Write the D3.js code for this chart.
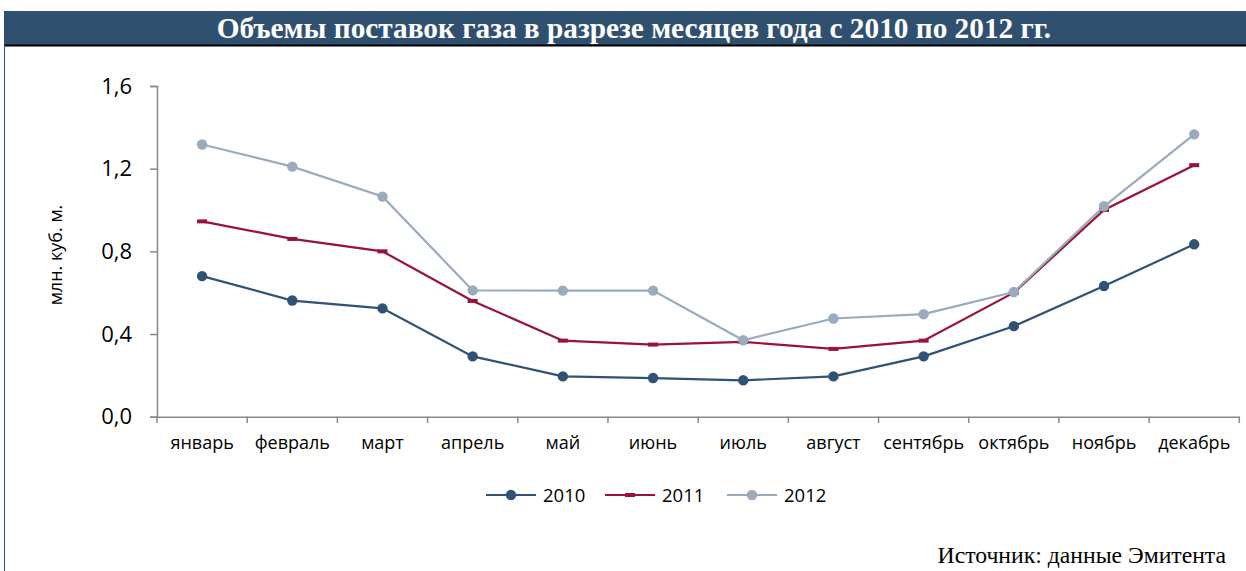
<!DOCTYPE html>
<html><head><meta charset="utf-8">
<script src="https://cdn.jsdelivr.net/npm/d3@7"></script>
<style>body{margin:0;background:#fff}svg{display:block}</style>
</head><body>
<svg id="c" width="1246" height="571"></svg>
<script>
const months = ["январь","февраль","март","апрель","май","июнь","июль","август","сентябрь","октябрь","ноябрь","декабрь"];
const s2010 = [0.68,0.562,0.524,0.292,0.195,0.187,0.176,0.195,0.292,0.438,0.632,0.834];
const s2011 = [0.945,0.86,0.80,0.56,0.368,0.349,0.362,0.328,0.368,0.60,1.0,1.217];
const s2012 = [1.317,1.21,1.065,0.611,0.61,0.61,0.37,0.475,0.496,0.603,1.018,1.366];
const yTicks = [0,0.4,0.8,1.2,1.6];
const seriesNames = ["2010","2011","2012"];
const title = "Объемы поставок газа в разрезе месяцев года с 2010 по 2012 гг.";
const yTitle = "млн. куб. м.";
const source = "Источник: данные Эмитента";

const svg = d3.select("#c");
const colors = ["#2f5275","#9b1239","#9aabbd"];
const markers = ["circle","dash","circle"];
const series = [s2010,s2011,s2012];

// title bar
svg.append("rect").attr("x",4).attr("y",11).attr("width",1242).attr("height",34).attr("fill","#30506f");
svg.append("line").attr("x1",4).attr("x2",1246).attr("y1",45.5).attr("y2",45.5).attr("stroke","#000").attr("stroke-width",2);
svg.append("line").attr("x1",4.5).attr("x2",4.5).attr("y1",45).attr("y2",571).attr("stroke","#30506f").attr("stroke-width",1);
svg.append("text").attr("x",634).attr("y",38).attr("text-anchor","middle")
  .attr("font-family","Liberation Serif").attr("font-weight","bold").attr("font-size",29.3).attr("fill","#fff").text(title);

const x = d3.scaleBand().domain(months).range([157,1239.3]);
const y = d3.scaleLinear().domain([0,1.6]).range([416.7,86]);

const fmt = d => d3.format(".1f")(d).replace(".",",");
const ya = svg.append("g").attr("transform","translate(157,0)")
  .call(d3.axisLeft(y).tickValues(yTicks).tickFormat(fmt).tickSize(7).tickPadding(18));
ya.select(".domain").attr("stroke","#898989").attr("stroke-width",1.5);
ya.selectAll(".tick line").attr("stroke","#898989").attr("stroke-width",1.5);
ya.selectAll("text").attr("font-family","Open Sans").attr("font-size",22).attr("fill","#000");

const xa = svg.append("g").attr("transform","translate(0,416.7)")
  .call(d3.axisBottom(x).tickSize(0).tickPadding(20));
xa.select(".domain").attr("stroke","#898989").attr("stroke-width",1.5);
xa.selectAll("text").attr("font-family","Open Sans").attr("font-size",18).attr("fill","#000");
// band boundary ticks
const bounds = months.map(m=>x(m)).concat([x.range()[1]]);
svg.append("g").selectAll("line").data(bounds).join("line")
  .attr("x1",d=>d).attr("x2",d=>d).attr("y1",416.7).attr("y2",423)
  .attr("stroke","#898989").attr("stroke-width",1.5);

svg.append("text").attr("transform","translate(62,255) rotate(-90)").attr("text-anchor","middle")
  .attr("font-family","Open Sans").attr("font-size",18).attr("fill","#000").text(yTitle);

const cx = m => x(m)+x.bandwidth()/2;
const line = d3.line().x((d,i)=>cx(months[i])).y(d=>y(d));
function drawMarker(g, type, px, py, col){
  if(type==="circle") g.append("circle").attr("cx",px).attr("cy",py).attr("r",5.2).attr("fill",col);
  else g.append("rect").attr("x",px-5).attr("y",py-2).attr("width",10).attr("height",4).attr("fill",col);
}
series.forEach((s,k)=>{
  const g = svg.append("g");
  g.append("path").datum(s).attr("d",line).attr("fill","none").attr("stroke",colors[k]).attr("stroke-width",2.2);
  s.forEach((v,i)=>drawMarker(g,markers[k],cx(months[i]),y(v),colors[k]));
});

// legend
const legX = [486,605,727];
seriesNames.forEach((n,k)=>{
  const g = svg.append("g");
  g.append("line").attr("x1",legX[k]).attr("x2",legX[k]+50).attr("y1",495).attr("y2",495).attr("stroke",colors[k]).attr("stroke-width",2.2);
  drawMarker(g,markers[k],legX[k]+25,495,colors[k]);
  g.append("text").attr("x",legX[k]+57).attr("y",502).attr("font-family","Open Sans").attr("font-size",18.5).attr("fill","#000").text(n);
});

svg.append("text").attr("x",1226).attr("y",563).attr("text-anchor","end")
  .attr("font-family","Liberation Serif").attr("font-size",23.7).attr("fill","#000").text(source);
</script>
</body></html>
